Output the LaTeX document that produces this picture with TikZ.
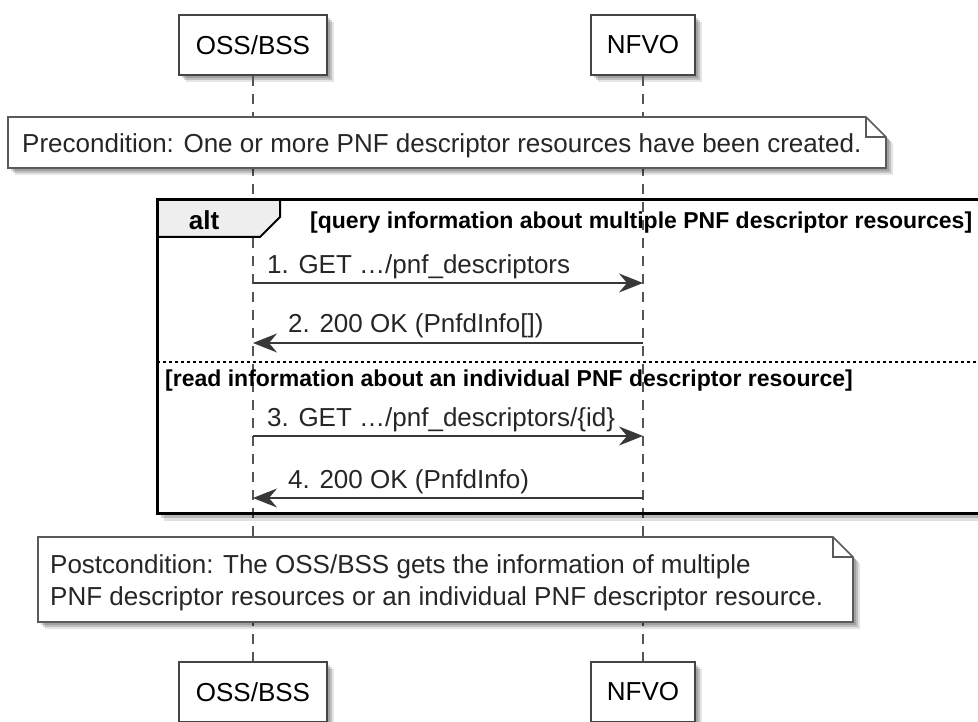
\documentclass[tikz,border=0pt]{standalone}
\usepackage{fontspec}
\setmainfont{Liberation Sans}
\usetikzlibrary{arrows.meta,shadows}
\definecolor{msgc}{HTML}{383838}
\definecolor{partc}{HTML}{454545}
\definecolor{notec}{HTML}{5A5A5A}
\definecolor{lifec}{HTML}{555555}
\definecolor{tabc}{HTML}{EEEEEE}
\begin{document}
\begin{tikzpicture}[x=1pt,y=-1pt,
  shad/.style={drop shadow={shadow xshift=7pt, shadow yshift=-7pt, opacity=0.10, fill=black},
               drop shadow={shadow xshift=5pt, shadow yshift=-5pt, opacity=0.16, fill=black},
               drop shadow={shadow xshift=3pt, shadow yshift=-3pt, opacity=0.16, fill=black}},
  part/.style={draw=partc, line width=2pt, fill=white, shad, inner sep=0pt,
    minimum height=60pt, font=\fontsize{26}{30}\selectfont},
  notebox/.style={draw=notec, line width=1.6pt, fill=white, shad},
  notefold/.style={draw=notec, line width=1.6pt},
  notetxt/.style={inner sep=0pt, font=\fontsize{26}{32}\selectfont, align=left, text=black!85},
  life/.style={draw=lifec, line width=1.4pt, dash pattern=on 10pt off 8pt},
  msg/.style={draw=msgc, line width=1.5pt, -{Stealth[length=24pt, width=19pt, inset=8pt]}},
  msgtxt/.style={inner sep=0pt, font=\fontsize{26}{30}\selectfont, text=black!85},
  guard/.style={inner sep=0pt, font=\fontsize{23}{28}\selectfont\bfseries},
  frameline/.style={draw=black, line width=3pt},
  sepline/.style={draw=black, line width=1.3pt, dash pattern=on 3pt off 3pt}
]
\useasboundingbox (0,0) rectangle (978,722);

% participants
\node[part, minimum width=148pt] (ossT) at (253,45) {OSS/BSS};
\node[part, minimum width=104pt] (nfvoT) at (643,45) {NFVO};
\node[part, minimum width=148pt] (ossB) at (253,692) {OSS/BSS};
\node[part, minimum width=104pt] (nfvoB) at (643,692) {NFVO};

% lifelines
\draw[life] (ossT.south) -- (ossB.north);
\draw[life] (nfvoT.south) -- (nfvoB.north);

% precondition note
\path[notebox] (8,117) -- (866,117) -- (886,137) -- (886,168) -- (8,168) -- cycle;
\draw[notefold] (866,117) -- (866,137) -- (886,137);
\node[notetxt, anchor=base west] (pre) at (22,153) {Precondition: One or more PNF descriptor resources have been created.};

% alt frame
\begin{scope}
\clip (0,0) rectangle (978,722);
\fill[black, opacity=0.12] (164,514) rectangle (990,521);
\fill[black, opacity=0.18] (161,514) rectangle (990,518);
\draw[frameline] (157,200) rectangle (995,513);
\draw[sepline] (157,362) -- (990,362);
\end{scope}
\draw[draw=black, line width=2pt, fill=tabc] (157,200) -- (280,200) -- (280,217) -- (260,237) -- (157,237) -- cycle;
\draw[frameline] (157,198.5) -- (157,238);
\node[inner sep=0pt, font=\fontsize{26}{30}\selectfont\bfseries] (alt) at (204,220) {alt};
\node[guard, anchor=base west] (g1) at (310,229) {[query information about multiple PNF descriptor resources]};
\node[guard, anchor=base west] (g2) at (165,386) {[read information about an individual PNF descriptor resource]};

% messages
\coordinate (o1) at (ossT.south |- 0,283);  \coordinate (n1) at (nfvoT.south |- 0,283);
\coordinate (o2) at (ossT.south |- 0,343);  \coordinate (n2) at (nfvoT.south |- 0,343);
\coordinate (o3) at (ossT.south |- 0,436);  \coordinate (n3) at (nfvoT.south |- 0,436);
\coordinate (o4) at (ossT.south |- 0,498);  \coordinate (n4) at (nfvoT.south |- 0,498);
\draw[msg] (o1) -- (n1);
\draw[msg] (n2) -- (o2);
\draw[msg] (o3) -- (n3);
\draw[msg] (n4) -- (o4);
\node[msgtxt, anchor=base west] (m1) at (267,274) {1. GET …/pnf\_descriptors};
\node[msgtxt, anchor=base west] (m2) at (288,332) {2. 200 OK (PnfdInfo[])};
\node[msgtxt, anchor=base west] (m3) at (267,426) {3. GET …/pnf\_descriptors/\{id\}};
\node[msgtxt, anchor=base west] (m4) at (288,488) {4. 200 OK (PnfdInfo)};

% postcondition note
\path[notebox] (38,537) -- (833,537) -- (853,557) -- (853,622) -- (38,622) -- cycle;
\draw[notefold] (833,537) -- (833,557) -- (853,557);
\node[notetxt, anchor=west] (post) at (50,583) {Postcondition: The OSS/BSS gets the information of multiple\\PNF descriptor resources or an individual PNF descriptor resource.};
\end{tikzpicture}
\end{document}
